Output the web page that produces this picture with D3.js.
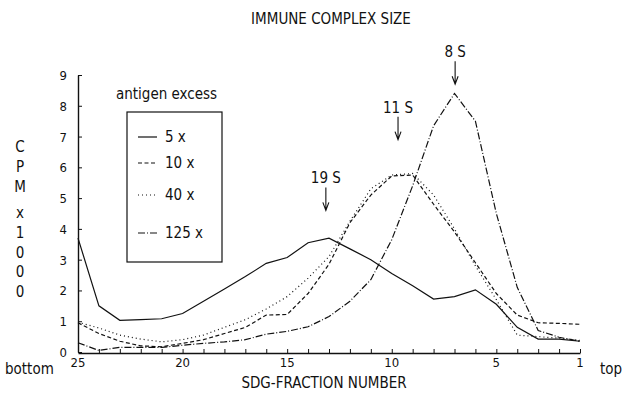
<!DOCTYPE html>
<html>
<head>
<meta charset="utf-8">
<script src="https://cdn.jsdelivr.net/npm/d3@7"></script>
<style>
  body { margin: 0; background: #fff; }
  svg text { font-family: "Liberation Sans Narrow", "DejaVu Sans Condensed", "Liberation Sans", sans-serif; fill: #111; }
</style>
</head>
<body>
<svg id="chart" width="624" height="397"></svg>
<script>
// SDG fraction numbers, bottom (25) to top (1)
const fractions = [25, 24, 23, 22, 21, 20, 19, 18, 17, 16, 15, 14, 13, 12, 11, 10, 9, 8, 7, 6, 5, 4, 3, 2, 1];

// CPM x1000 per fraction
const excess5 = [3.7, 1.5, 1.03, 1.05, 1.08, 1.25, 1.65, 2.05, 2.45, 2.88, 3.07, 3.55, 3.7, 3.35, 3.0, 2.55, 2.15, 1.72, 1.8, 2.02, 1.55, 0.8, 0.42, 0.42, 0.35];
const excess10 = [0.95, 0.6, 0.35, 0.2, 0.17, 0.28, 0.4, 0.6, 0.8, 1.2, 1.22, 1.9, 2.85, 4.2, 5.1, 5.72, 5.75, 4.8, 3.9, 2.9, 1.9, 1.2, 0.95, 0.93, 0.9];
const excess40 = [0.97, 0.78, 0.55, 0.42, 0.33, 0.4, 0.55, 0.8, 1.05, 1.4, 1.8, 2.4, 3.1, 4.25, 5.3, 5.75, 5.8, 5.1, 4.0, 2.8, 1.7, 0.55, 0.5, 0.45, 0.38];
const excess125 = [0.3, 0.05, 0.15, 0.15, 0.15, 0.22, 0.28, 0.33, 0.4, 0.58, 0.67, 0.82, 1.15, 1.65, 2.35, 3.65, 5.4, 7.35, 8.4, 7.5, 4.5, 2.1, 0.7, 0.48, 0.35];

const seriesNames = ['5 x', '10 x', '40 x', '125 x'];
const seriesValues = [excess5, excess10, excess40, excess125];

const xTickLabels = [25, 20, 15, 10, 5, 1];
const yTickValues = [0, 1, 2, 3, 4, 5, 6, 7, 8, 9];

// sedimentation markers
const markerNames = ['19 S', '11 S', '8 S'];
const markerFractions = [13.15, 9.7, 6.97];
const markerTipValues = [4.6, 6.9, 8.7];

const svg = d3.select('#chart');
const dashes = [null, '4,2.5', '1,3', '7,2,1,2'];

const x = d3.scaleLinear().domain([25, 1]).range([78, 580]);
const y = d3.scaleLinear().domain([0, 9]).range([352, 75]);

// axes (ticks pointing inward)
const xAxis = svg.append('g')
  .attr('transform', 'translate(0,353)')
  .call(d3.axisBottom(x).tickValues(fractions).tickSizeInner(-4).tickSizeOuter(0).tickFormat(''));
xAxis.select('.domain').attr('stroke', '#111').attr('stroke-width', 1.4);
xAxis.selectAll('.tick line').attr('stroke', '#111').attr('stroke-width', 1);

svg.append('g').selectAll('text')
  .data(xTickLabels)
  .enter()
  .append('text')
  .attr('x', d => x(d))
  .attr('y', 367)
  .attr('text-anchor', 'middle')
  .attr('font-size', 13)
  .text(d => d);

const yAxis = svg.append('g')
  .attr('transform', 'translate(78,0)')
  .call(d3.axisLeft(y).tickValues(yTickValues).tickSizeInner(-4).tickSizeOuter(0).tickFormat(''));
yAxis.select('.domain').attr('stroke', '#111').attr('stroke-width', 1.4);
yAxis.selectAll('.tick line').attr('stroke', '#111').attr('stroke-width', 1);

svg.append('g').selectAll('text')
  .data(yTickValues)
  .enter()
  .append('text')
  .attr('x', 67)
  .attr('y', d => y(d) + 5)
  .attr('text-anchor', 'end')
  .attr('font-size', 13)
  .text(d => d);

// curves
const line = d3.line()
  .x((d, i) => x(fractions[i]))
  .y(d => y(d));

svg.append('g').selectAll('path')
  .data(seriesValues)
  .enter()
  .append('path')
  .attr('d', d => line(d))
  .attr('fill', 'none')
  .attr('stroke', '#111')
  .attr('stroke-width', 1.2)
  .attr('stroke-dasharray', (d, i) => dashes[i]);

// markers with arrows
const markers = svg.append('g').selectAll('g')
  .data(markerNames)
  .enter()
  .append('g');
markers.append('text')
  .attr('x', (d, i) => x(markerFractions[i]))
  .attr('y', (d, i) => y(markerTipValues[i]) - 27)
  .attr('text-anchor', 'middle')
  .attr('font-size', 15)
  .text(d => d);
markers.append('path')
  .attr('d', (d, i) => {
    const cx = x(markerFractions[i]);
    const tip = y(markerTipValues[i]);
    return `M${cx},${tip - 23}V${tip}M${cx - 3},${tip - 8}L${cx},${tip}L${cx + 3},${tip - 8}`;
  })
  .attr('fill', 'none')
  .attr('stroke', '#111')
  .attr('stroke-width', 1.1);

// legend
svg.append('text')
  .attr('x', 116).attr('y', 99)
  .attr('font-size', 15)
  .text('antigen excess');
svg.append('rect')
  .attr('x', 127).attr('y', 112)
  .attr('width', 95).attr('height', 150)
  .attr('fill', 'none')
  .attr('stroke', '#111')
  .attr('stroke-width', 1.2);

const legendY = [137, 163, 195, 233];
const legend = svg.append('g').selectAll('g')
  .data(seriesNames)
  .enter()
  .append('g')
  .attr('transform', (d, i) => `translate(0,${legendY[i]})`);
legend.append('line')
  .attr('x1', 138).attr('x2', 157)
  .attr('stroke', '#111')
  .attr('stroke-width', 1.2)
  .attr('stroke-dasharray', (d, i) => dashes[i]);
legend.append('text')
  .attr('x', 165).attr('y', 5)
  .attr('font-size', 15)
  .text(d => d);

// titles and axis labels
svg.append('text')
  .attr('x', 331).attr('y', 24)
  .attr('text-anchor', 'middle')
  .attr('font-size', 15)
  .text('IMMUNE COMPLEX SIZE');
svg.append('text')
  .attr('x', 324).attr('y', 388)
  .attr('text-anchor', 'middle')
  .attr('font-size', 15)
  .text('SDG-FRACTION NUMBER');
svg.append('text')
  .attr('x', 5).attr('y', 374)
  .attr('font-size', 15)
  .text('bottom');
svg.append('text')
  .attr('x', 600).attr('y', 374)
  .attr('font-size', 15)
  .text('top');

const yLabel = ['C', 'P', 'M', 'x', '1', '0', '0', '0'];
const yLabelPos = [147, 167, 187, 213, 233, 253, 272, 292];
svg.append('g').selectAll('text')
  .data(yLabel)
  .enter()
  .append('text')
  .attr('x', 20)
  .attr('y', (d, i) => yLabelPos[i] + 5)
  .attr('text-anchor', 'middle')
  .attr('font-size', 15)
  .text(d => d);
</script>
</body>
</html>
